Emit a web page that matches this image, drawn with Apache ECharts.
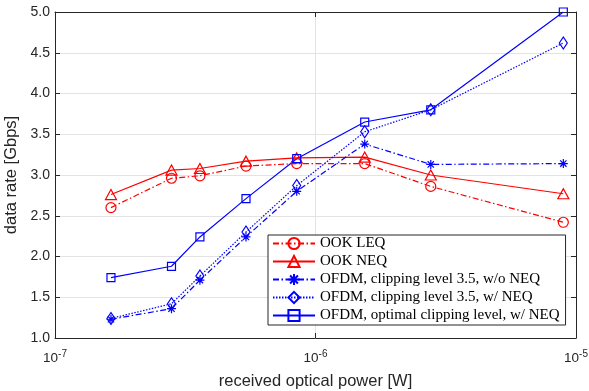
<!DOCTYPE html>
<html>
<head>
<meta charset="utf-8">
<script src="https://cdn.jsdelivr.net/npm/echarts@6/dist/echarts.min.js"></script>
<style>
  html, body { margin: 0; padding: 0; background: #fff; }
  #chart { width: 589px; height: 391px; }
</style>
</head>
<body>
<div id="chart"></div>
<script>
// Received optical power [W] at each measurement point
const power = [1.64e-7, 2.80e-7, 3.60e-7, 5.41e-7, 8.47e-7, 1.545e-6, 2.77e-6, 8.94e-6];

// Data rate [Gbps] per scheme
const ookLeq    = [2.60, 2.96, 2.99, 3.11, 3.14, 3.14, 2.86, 2.42];
const ookNeq    = [2.76, 3.06, 3.08, 3.17, 3.21, 3.22, 3.00, 2.77];
const ofdmNoNeq = [1.23, 1.36, 1.71, 2.24, 2.80, 3.38, 3.13, 3.14];
const ofdmNeq   = [1.24, 1.42, 1.76, 2.30, 2.87, 3.53, 3.80, 4.62];
const ofdmOpt   = [1.74, 1.88, 2.24, 2.71, 3.20, 3.65, 3.80, 5.00];

const seriesNames = [
  'OOK LEQ',
  'OOK NEQ',
  'OFDM, clipping level 3.5, w/o NEQ',
  'OFDM, clipping level 3.5, w/ NEQ',
  'OFDM, optimal clipping level, w/ NEQ'
];

// Minor decade positions for the dotted log grid
const minorGrid = [2e-7, 3e-7, 4e-7, 5e-7, 6e-7, 7e-7, 8e-7, 9e-7,
                   2e-6, 3e-6, 4e-6, 5e-6, 6e-6, 7e-6, 8e-6, 9e-6];

const RED = '#ff0000';
const BLUE = '#0000ff';
const INK = '#262626';
const ASTERISK = 'path://M5,0L5,10M0,5L10,5M1.5,1.5L8.5,8.5M1.5,8.5L8.5,1.5';
const DASHDOT = [6, 2.5, 1.5, 2.5];
const DOTTED = [1.5, 1.5];

function pairs(ys) { return power.map((x, i) => [x, ys[i]]); }

function lineSeries(name, ys, color, dash, symbol, size) {
  return {
    name: name,
    type: 'line',
    data: pairs(ys),
    symbol: symbol,
    symbolSize: size,
    showAllSymbol: true,
    lineStyle: { color: color, width: 1.2, type: dash },
    itemStyle: { color: 'rgba(0,0,0,0)', borderColor: color, borderWidth: 1.2 },
    emphasis: { disabled: true },
    animation: false,
    z: 3
  };
}

const chart = echarts.init(document.getElementById('chart'), null, { renderer: 'canvas' });

const axisFont = { fontFamily: 'Liberation Sans, Arial, sans-serif', color: INK };

chart.setOption({
  backgroundColor: '#fff',
  animation: false,
  grid: { left: 55, right: 13, top: 12, bottom: 53, containLabel: false, outerBoundsMode: 'none' },
  xAxis: [
    {
      type: 'log', logBase: 10, min: 1e-7, max: 1e-5, position: 'bottom',
      name: 'received optical power [W]', nameLocation: 'middle', nameGap: 35,
      nameTextStyle: Object.assign({ fontSize: 16.5 }, axisFont),
      axisLine: { onZero: false, lineStyle: { color: INK, width: 1 } },
      axisTick: { inside: true, length: 5, lineStyle: { color: INK } },
      axisLabel: {
        margin: 11,
        formatter: function (v) {
          const e = Math.round(Math.log10(v));
          return '{b|10}{s|' + e + '}';
        },
        rich: {
          b: Object.assign({ fontSize: 13.5 }, axisFont),
          s: Object.assign({ fontSize: 10, padding: [0, 0, 8, 0] }, axisFont)
        }
      },
      splitLine: { show: true, lineStyle: { color: '#e3e3e3', width: 1 } }
    },
    {
      type: 'log', logBase: 10, min: 1e-7, max: 1e-5, position: 'top',
      axisLine: { onZero: false, lineStyle: { color: INK, width: 1 } },
      axisTick: { inside: true, length: 5, lineStyle: { color: INK } },
      axisLabel: { show: false },
      splitLine: { show: false }
    }
  ],
  yAxis: [
    {
      type: 'value', min: 1, max: 5, interval: 0.5, position: 'left',
      name: 'data rate [Gbps]', nameLocation: 'middle', nameGap: 29,
      nameTextStyle: Object.assign({ fontSize: 16.5 }, axisFont),
      axisLine: { show: true, onZero: false, lineStyle: { color: INK, width: 1 } },
      axisTick: { show: true, inside: true, length: 5, lineStyle: { color: INK } },
      axisLabel: Object.assign({ fontSize: 14, margin: 5, formatter: v => v.toFixed(1) }, axisFont),
      splitLine: { show: true, lineStyle: { color: '#e3e3e3', width: 1 } }
    },
    {
      type: 'value', min: 1, max: 5, interval: 0.5, position: 'right',
      axisLine: { show: true, onZero: false, lineStyle: { color: INK, width: 1 } },
      axisTick: { show: true, inside: true, length: 5, lineStyle: { color: INK } },
      axisLabel: { show: false },
      splitLine: { show: false }
    }
  ],
  legend: {
    data: seriesNames,
    orient: 'vertical',
    left: 268, top: 235,
    padding: [1, 6, 2, 4],
    itemGap: 3,
    itemWidth: 42, itemHeight: 14,
    backgroundColor: '#fff',
    borderColor: INK, borderWidth: 1,
    textStyle: { fontFamily: 'Liberation Serif, Times New Roman, serif', fontSize: 15, color: '#000' }
  },
  series: [
    {
      name: 'minor grid',
      type: 'line',
      data: [],
      silent: true,
      z: 1,
      markLine: {
        silent: true,
        symbol: ['none', 'none'],
        label: { show: false },
        animation: false,
        lineStyle: { color: '#d6d6d6', width: 1, type: [1.5, 3] },
        emphasis: { disabled: true },
        data: minorGrid.map(x => ({ xAxis: x }))
      }
    },
    lineSeries(seriesNames[0], ookLeq, RED, DASHDOT, 'circle', 10),
    lineSeries(seriesNames[1], ookNeq, RED, 'solid', 'triangle', [11, 10]),
    lineSeries(seriesNames[2], ofdmNoNeq, BLUE, DASHDOT, ASTERISK, 9),
    lineSeries(seriesNames[3], ofdmNeq, BLUE, DOTTED, 'diamond', [8, 12]),
    lineSeries(seriesNames[4], ofdmOpt, BLUE, 'solid', 'rect', 8)
  ]
});
</script>
</body>
</html>
